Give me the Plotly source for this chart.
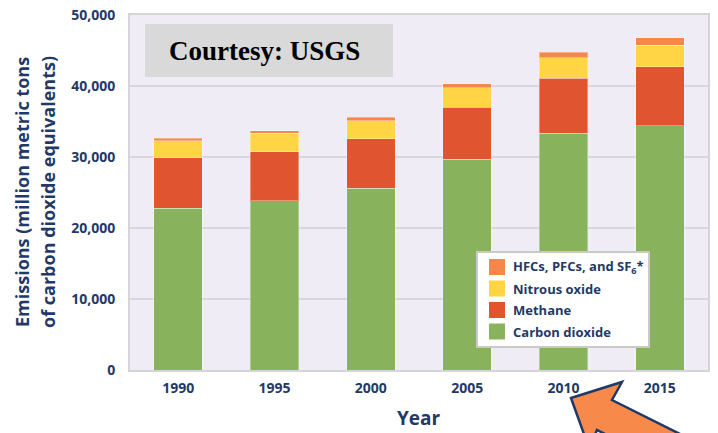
import plotly.graph_objects as go

# ---- data (million metric tons CO2 equivalent) ----
years = ["1990", "1995", "2000", "2005", "2010", "2015"]
carbon_dioxide = [22800, 23840, 25570, 29700, 33360, 34430]
methane = [7080, 6930, 6990, 7310, 7740, 8300]
nitrous_oxide = [2430, 2560, 2570, 2760, 2860, 3010]
hfcs = [340, 350, 480, 520, 800, 1030]

series_names = ["Carbon dioxide", "Methane", "Nitrous oxide", "HFCs, PFCs, and SF<sub>6</sub>*"]
series_values = [carbon_dioxide, methane, nitrous_oxide, hfcs]
series_colors = ["#88B35C", "#E0542F", "#FFD545", "#F5874A"]

y_ticks = [0, 10000, 20000, 30000, 40000, 50000]
y_title_lines = ["Emissions (million metric tons", "of carbon dioxide equivalents)"]

NAVY = "#1F3A68"
W, H = 718, 433
ML, MR, MT, MB = 130, 10, 15, 63
PW, PH = W - ML - MR, H - MT - MB


def px(x):
    return (x - ML) / PW


def py(y):
    return (H - MB - y) / PH


fig = go.Figure()
for name, vals, col in zip(series_names, series_values, series_colors):
    fig.add_trace(go.Bar(
        x=years, y=vals, name=name,
        marker=dict(color=col, line=dict(color="rgba(255,255,255,0.35)", width=1)),
        showlegend=False,
    ))

shapes = []
annotations = []

# Courtesy box
shapes.append(dict(type="rect", xref="paper", yref="paper",
                   x0=px(145), x1=px(393), y0=py(77), y1=py(24),
                   fillcolor="#D9D9D9", line=dict(width=0), layer="above"))
annotations.append(dict(text="<b>Courtesy: USGS</b>", xref="paper", yref="paper",
                        x=px(264.5), y=py(51), showarrow=False,
                        xanchor="center", yanchor="middle",
                        font=dict(family="Liberation Serif", size=27, color="black")))

# Legend (drawn manually, top row = last series)
shapes.append(dict(type="rect", xref="paper", yref="paper",
                   x0=px(477), x1=px(649), y0=py(347), y1=py(252),
                   fillcolor="white", line=dict(color="#C9C9C9", width=2), layer="above"))
row_y = [267, 288.5, 310, 331.5]
for i, (name, col) in enumerate(zip(series_names[::-1], series_colors[::-1])):
    cy = row_y[i]
    shapes.append(dict(type="rect", xref="paper", yref="paper",
                       x0=px(489), x1=px(505), y0=py(cy + 8), y1=py(cy - 8),
                       fillcolor=col, line=dict(width=0), layer="above"))
    annotations.append(dict(text="<b>" + name + "</b>", xref="paper", yref="paper",
                            x=px(511), y=py(cy), showarrow=False,
                            xanchor="left", yanchor="middle",
                            font=dict(family="Open Sans", size=13, color=NAVY)))

# Arrow (decoration)
pts = [(571, 398), (622, 382), (612, 400), (772, 480), (757, 510), (597, 430), (589, 448)]
path = "M " + " L ".join(f"{px(x):.5f},{py(y):.5f}" for x, y in pts) + " Z"
shapes.append(dict(type="path", xref="paper", yref="paper", path=path,
                   fillcolor="#F7894A", line=dict(color=NAVY, width=2.5), layer="above"))

# Axis titles
for line_text, cx in zip(y_title_lines, [22, 48]):
    annotations.append(dict(text="<b>" + line_text + "</b>",
                            xref="paper", yref="paper", x=px(cx), y=py(192),
                            textangle=-90, showarrow=False, xanchor="center", yanchor="middle",
                            font=dict(family="Open Sans", size=18, color=NAVY)))
annotations.append(dict(text="<b>Year</b>", xref="paper", yref="paper",
                        x=px(419), y=py(418), showarrow=False,
                        xanchor="center", yanchor="middle",
                        font=dict(family="Open Sans", size=19, color=NAVY)))

fig.update_layout(
    width=W, height=H,
    margin=dict(l=ML, r=MR, t=MT, b=MB, autoexpand=False),
    barmode="stack", bargap=0.495,
    plot_bgcolor="#EFECF6", paper_bgcolor="white",
    shapes=shapes, annotations=annotations,
    font=dict(family="Open Sans", color=NAVY),
)
fig.update_yaxes(range=[0, 50000], tickvals=y_ticks, tickformat=",",
                 showgrid=True, gridcolor="#D9D7DD", gridwidth=1.5,
                 showline=True, linecolor="#D6D4DA", linewidth=2, mirror=True,
                 zeroline=False, ticks="", ticklabelstandoff=10, automargin=False,
                 tickfont=dict(family="Open Sans", size=14, color=NAVY, weight="bold"))
fig.update_xaxes(type="category", showgrid=False,
                 showline=True, linecolor="#D6D4DA", linewidth=2, mirror=True,
                 ticks="", ticklabelstandoff=4, automargin=False,
                 tickfont=dict(family="Open Sans", size=14, color=NAVY, weight="bold"))

fig.write_html("out.html")
